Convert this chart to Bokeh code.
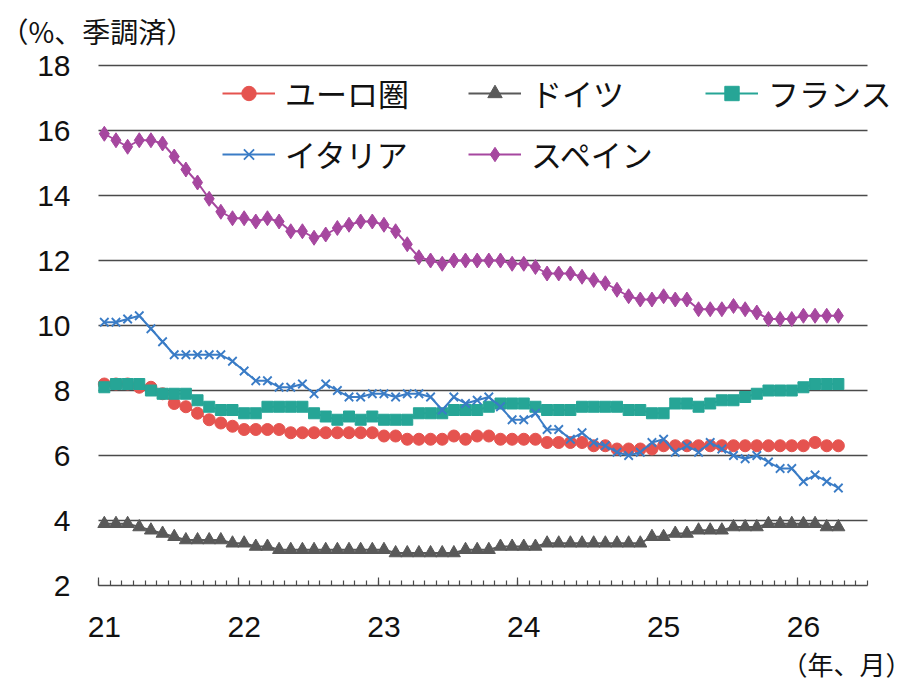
from bokeh.plotting import figure
from bokeh.models import (Range1d, LinearAxis, FixedTicker, Legend, LegendItem, Label)
from bokeh.embed import file_html
from bokeh.resources import INLINE

# ---- data (monthly, Jan 2021 .. Apr 2026) ----
month_idx = list(range(64))
year_ticks = [0, 12, 24, 36, 48, 60]
year_labels = ["21", "22", "23", "24", "25", "26"]
y_ticks = [2, 4, 6, 8, 10, 12, 14, 16, 18]

euro = [8.2, 8.2, 8.2, 8.1, 8.1, 7.9, 7.6, 7.5, 7.3, 7.1, 7.0, 6.9,
        6.8, 6.8, 6.8, 6.8, 6.7, 6.7, 6.7, 6.7, 6.7, 6.7, 6.7, 6.7,
        6.6, 6.6, 6.5, 6.5, 6.5, 6.5, 6.6, 6.5, 6.6, 6.6, 6.5, 6.5,
        6.5, 6.5, 6.4, 6.4, 6.4, 6.4, 6.3, 6.3, 6.2, 6.2, 6.2, 6.2,
        6.3, 6.3, 6.3, 6.3, 6.3, 6.3, 6.3, 6.3, 6.3, 6.3, 6.3, 6.3,
        6.3, 6.4, 6.3, 6.3]
germany = [3.9, 3.9, 3.9, 3.8, 3.7, 3.6, 3.5, 3.4, 3.4, 3.4, 3.4, 3.3,
           3.3, 3.2, 3.2, 3.1, 3.1, 3.1, 3.1, 3.1, 3.1, 3.1, 3.1, 3.1,
           3.1, 3.0, 3.0, 3.0, 3.0, 3.0, 3.0, 3.1, 3.1, 3.1, 3.2, 3.2,
           3.2, 3.2, 3.3, 3.3, 3.3, 3.3, 3.3, 3.3, 3.3, 3.3, 3.3, 3.5,
           3.5, 3.6, 3.6, 3.7, 3.7, 3.7, 3.8, 3.8, 3.8, 3.9, 3.9, 3.9,
           3.9, 3.9, 3.8, 3.8]
france = [8.1, 8.2, 8.2, 8.2, 8.0, 7.9, 7.9, 7.9, 7.7, 7.5, 7.4, 7.4,
          7.3, 7.3, 7.5, 7.5, 7.5, 7.5, 7.3, 7.2, 7.1, 7.2, 7.1, 7.2,
          7.1, 7.1, 7.1, 7.3, 7.3, 7.3, 7.4, 7.4, 7.4, 7.5, 7.6, 7.6,
          7.6, 7.5, 7.4, 7.4, 7.4, 7.5, 7.5, 7.5, 7.5, 7.4, 7.4, 7.3,
          7.3, 7.6, 7.6, 7.5, 7.6, 7.7, 7.7, 7.8, 7.9, 8.0, 8.0, 8.0,
          8.1, 8.2, 8.2, 8.2]
italy = [10.1, 10.1, 10.2, 10.3, 9.9, 9.5, 9.1, 9.1, 9.1, 9.1, 9.1, 8.9,
         8.6, 8.3, 8.3, 8.1, 8.1, 8.2, 7.9, 8.2, 8.0, 7.8, 7.8, 7.9,
         7.9, 7.8, 7.9, 7.9, 7.8, 7.4, 7.8, 7.6, 7.7, 7.8, 7.5, 7.1,
         7.1, 7.3, 6.8, 6.8, 6.5, 6.7, 6.4, 6.3, 6.1, 6.0, 6.1, 6.4,
         6.5, 6.1, 6.3, 6.1, 6.4, 6.2, 6.0, 5.9, 6.0, 5.8, 5.6, 5.6,
         5.2, 5.4, 5.2, 5.0]
spain = [15.9, 15.7, 15.5, 15.7, 15.7, 15.6, 15.2, 14.8, 14.4, 13.9, 13.5, 13.3,
         13.3, 13.2, 13.3, 13.2, 12.9, 12.9, 12.7, 12.8, 13.0, 13.1, 13.2, 13.2,
         13.1, 12.9, 12.5, 12.1, 12.0, 11.9, 12.0, 12.0, 12.0, 12.0, 12.0, 11.9,
         11.9, 11.8, 11.6, 11.6, 11.6, 11.5, 11.4, 11.3, 11.1, 10.9, 10.8, 10.8,
         10.9, 10.8, 10.8, 10.5, 10.5, 10.5, 10.6, 10.5, 10.4, 10.2, 10.2, 10.2,
         10.3, 10.3, 10.3, 10.3]

names = ["ユーロ圏", "ドイツ", "フランス", "イタリア", "スペイン"]

N_SLOTS = 66                      # Jan 2021 .. Jun 2026 category slots
x = [i + 0.5 for i in month_idx]

# ---- layout (px): the frame fills the whole canvas, axes are fixed inside ----
W, H = 915, 681
PL, PR, PT, PB = 98, 867, 65, 585      # plot area edges (px)
px_per_x = (PR - PL) / N_SLOTS
px_per_y = (PB - PT) / (y_ticks[-1] - y_ticks[0])
x_rng = Range1d(-PL / px_per_x, (W - PL) / px_per_x)
y_rng = Range1d(y_ticks[0] - (H - PB) / px_per_y, y_ticks[-1] + PT / px_per_y)

p = figure(width=W, height=H, output_backend="svg", toolbar_location=None,
           x_range=x_rng, y_range=y_rng,
           x_axis_type=None, y_axis_type=None,
           min_border=0, min_border_left=0, min_border_right=0,
           min_border_top=0, min_border_bottom=0)
p.outline_line_color = None
p.background_fill_color = "white"
p.border_fill_color = "white"

GRID = "#4a4a4a"
# horizontal grid lines over the category axis extent
p.segment(x0=[0] * (len(y_ticks) - 1), x1=[N_SLOTS] * (len(y_ticks) - 1),
          y0=y_ticks[1:], y1=y_ticks[1:], line_color=GRID, line_width=1.5)

# y axis (fixed at the left edge of the category axis)
yax = LinearAxis(ticker=FixedTicker(ticks=y_ticks), fixed_location=0)
yax.axis_line_color = None
yax.major_tick_line_color = None
yax.minor_tick_line_color = None
yax.major_label_standoff = 22
yax.major_label_text_font = "Liberation Sans"
yax.major_label_text_font_size = "30px"
yax.major_label_text_color = "#111111"
p.add_layout(yax, "left")

# x axis: line + monthly tick marks
xt = LinearAxis(ticker=FixedTicker(ticks=[], minor_ticks=list(range(0, N_SLOTS + 1))),
                bounds=(0, N_SLOTS), fixed_location=y_ticks[0])
xt.axis_line_color = GRID
xt.axis_line_width = 1.5
xt.major_tick_line_color = None
xt.minor_tick_line_color = GRID
xt.minor_tick_line_width = 1.2
xt.minor_tick_in = 5
xt.minor_tick_out = 0
p.add_layout(xt, "below")

# x axis: longer year-boundary ticks
xm = LinearAxis(ticker=FixedTicker(ticks=[], minor_ticks=year_ticks),
                bounds=(0, N_SLOTS), fixed_location=y_ticks[0])
xm.axis_line_color = None
xm.major_tick_line_color = None
xm.minor_tick_line_color = GRID
xm.minor_tick_line_width = 1.2
xm.minor_tick_in = 8
xm.minor_tick_out = 0
p.add_layout(xm, "below")

# x axis: year labels centred on January
xl = LinearAxis(ticker=FixedTicker(ticks=[t + 0.5 for t in year_ticks]),
                major_label_overrides={t + 0.5: lab for t, lab in zip(year_ticks, year_labels)},
                bounds=(0, N_SLOTS), fixed_location=y_ticks[0])
xl.axis_line_color = None
xl.major_tick_line_color = None
xl.minor_tick_line_color = None
xl.major_label_standoff = 25
xl.major_label_text_font = "Liberation Sans"
xl.major_label_text_font_size = "30px"
xl.major_label_text_color = "#111111"
p.add_layout(xl, "below")

unit_y = Label(x=0, y=H - 30, x_units="screen", y_units="screen",
               text="（%、季調済）", text_font="Noto Sans CJK JP",
               text_font_size="28px", text_color="#111111",
               text_align="left", text_baseline="middle")
p.add_layout(unit_y)

unit_x = Label(x=W - 4, y=H - 663, x_units="screen", y_units="screen",
               text="（年、月）", text_font="Noto Sans CJK JP",
               text_font_size="26px", text_color="#111111",
               text_align="right", text_baseline="middle")
p.add_layout(unit_x)

styles = [
    dict(color="#E5534F", marker="circle", size=12, lw=1),
    dict(color="#595959", marker="triangle", size=13, lw=1),
    dict(color="#26A596", marker="square", size=11, lw=1),
    dict(color="#3A7CC6", marker="x", size=12, lw=1.8),
    dict(color="#A6479F", marker="diamond", size=15, lw=1),
]
series = [euro, germany, france, italy, spain]

items = []
for name, ys, st in zip(names, series, styles):
    ln = p.line(x, ys, line_color=st["color"], line_width=2)
    sc = p.scatter(x, ys, marker=st["marker"], size=st["size"],
                   fill_color=st["color"], line_color=st["color"],
                   line_width=st["lw"])
    items.append(LegendItem(label=name, renderers=[ln, sc]))

LH = 36
row_c = [97, 158]                  # legend row centres (px from top)
col_x = [222, 468, 705]            # legend sample starts (px from left)
slots = [(0, 0), (1, 0), (2, 0), (0, 1), (1, 1)]
for it, (c, r) in zip(items, slots):
    lg = Legend(items=[it], location=(col_x[c], H - row_c[r] - LH // 2))
    lg.label_text_font = "Noto Sans CJK JP"
    lg.label_text_font_size = "31px"
    lg.label_text_color = "#111111"
    lg.glyph_width = 53
    lg.glyph_height = LH
    lg.label_height = LH
    lg.label_standoff = 10
    lg.padding = 0
    lg.margin = 0
    lg.border_line_color = None
    lg.background_fill_alpha = 0
    p.add_layout(lg, "center")

open("out.html", "w").write(file_html(p, INLINE))
